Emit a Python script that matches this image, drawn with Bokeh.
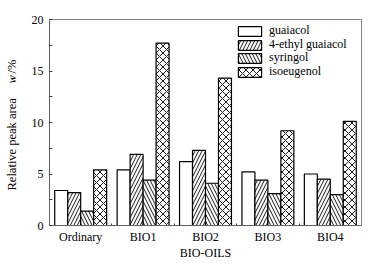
import numpy as np
from bokeh.plotting import figure
from bokeh.layouts import row
from bokeh.models import (FixedTicker, Range1d, Legend, LegendItem, ColumnDataSource)
from bokeh.core.properties import value
from bokeh.embed import file_html
from bokeh.resources import INLINE

categories = ["Ordinary", "BIO1", "BIO2", "BIO3", "BIO4"]
series = ["guaiacol", "4-ethyl guaiacol", "syringol", "isoeugenol"]
guaiacol = [3.4, 5.4, 6.2, 5.2, 5.0]
ethyl_guaiacol = [3.2, 6.9, 7.3, 4.4, 4.5]
syringol = [1.4, 4.4, 4.1, 3.1, 3.0]
isoeugenol = [5.4, 17.7, 14.3, 9.2, 10.1]
y_ticks = [0, 5, 10, 15, 20]
y_minor = [2.5, 7.5, 12.5, 17.5]
y_title_parts = ["Relative peak area", "w", "/%"]

values = [guaiacol, ethyl_guaiacol, syringol, isoeugenol]
hatches = [" ", "/", "\\", "x"]

FONT = "Liberation Serif"
H = 265
LW = 26
TOP, BOTTOM = 19, 40

# ---- left strip holding the y-axis title (its frame is aligned with the main frame) ----
t = figure(width=LW, height=H, output_backend="svg", toolbar_location=None,
           x_range=Range1d(0, LW), y_range=Range1d(BOTTOM, H - TOP),
           min_border=0, min_border_left=0, min_border_right=0,
           min_border_top=TOP, min_border_bottom=BOTTOM)
t.axis.visible = False
t.grid.visible = False
t.outline_line_color = None
t.background_fill_color = "white"
t.border_fill_color = "white"
title_src = ColumnDataSource(dict(
    x=[11, 11, 11],
    y=[H - 190, H - 83, H - 73],
    text=y_title_parts,
    style=["normal", "italic", "normal"],
))
t.text(x="x", y="y", text="text", source=title_src, angle=np.pi / 2,
       text_align="left", text_baseline="middle",
       text_font=value(FONT), text_font_size="12.5px", text_color="black",
       text_font_style="style")

# ---- main plot ----
p = figure(width=382 - LW, height=H, output_backend="svg", toolbar_location=None,
           x_range=Range1d(0, 5), y_range=Range1d(0, 20),
           min_border_left=49 - LW, min_border_right=21, min_border_top=TOP, min_border_bottom=BOTTOM)
p.background_fill_color = "white"
p.border_fill_color = "white"
p.outline_line_color = "#808080"
p.outline_line_width = 1
p.xgrid.visible = False
p.ygrid.visible = False

bw = 0.208
centers = np.arange(len(categories)) + 0.5
renderers = []
for k, (vals, h) in enumerate(zip(values, hatches)):
    xs = centers + (k - 1.5) * bw
    src = ColumnDataSource(dict(x=xs, top=vals))
    r = p.vbar(x="x", top="top", width=bw, bottom=0, source=src,
               fill_color="white", line_color="black", line_width=1.2,
               hatch_pattern=h, hatch_color="black", hatch_scale=7, hatch_weight=0.9)
    renderers.append(r)

# y axis
ya = p.yaxis[0]
ya.ticker = FixedTicker(ticks=y_ticks, minor_ticks=y_minor)
ya.major_tick_in = 3
ya.major_tick_out = 0
ya.minor_tick_in = 3
ya.minor_tick_out = 0
ya.axis_line_color = "#606060"
ya.major_tick_line_color = "#404040"
ya.minor_tick_line_color = "#404040"
ya.major_label_standoff = 6
ya.major_label_text_font = FONT
ya.major_label_text_font_size = "12px"
ya.major_label_text_color = "black"
ya.axis_label = None

# x axis
xa = p.xaxis[0]
xa.ticker = FixedTicker(ticks=list(centers), minor_ticks=[1, 2, 3, 4])
xa.major_label_overrides = {float(c): cat for c, cat in zip(centers, categories)}
xa.major_tick_in = 0
xa.major_tick_out = 0
xa.minor_tick_in = 2
xa.minor_tick_out = 0
xa.minor_tick_line_color = "#404040"
xa.axis_line_color = "#606060"
xa.major_label_standoff = 4
xa.major_label_text_font = FONT
xa.major_label_text_font_size = "12px"
xa.major_label_text_color = "black"
xa.axis_label = "BIO-OILS"
xa.axis_label_standoff = -1
xa.axis_label_text_font = FONT
xa.axis_label_text_font_size = "12px"
xa.axis_label_text_font_style = "normal"
xa.axis_label_text_color = "black"

# legend: one single-row legend per series so the row pitch matches the reference
row_pitch = 13.7
first_row_y = 187
for i, (s, r) in enumerate(zip(series, renderers)):
    lg = Legend(items=[LegendItem(label=s, renderers=[r])],
                location=(186, round(first_row_y - i * row_pitch)))
    lg.padding = 0
    lg.margin = 0
    lg.spacing = 0
    lg.border_line_color = None
    lg.background_fill_alpha = 0
    lg.glyph_width = 29
    lg.glyph_height = 12
    lg.label_height = 12
    lg.label_standoff = 5
    lg.label_text_font = FONT
    lg.label_text_font_size = "12px"
    lg.label_text_color = "black"
    p.add_layout(lg)

layout = row(t, p, spacing=0)
open("out.html", "w").write(file_html(layout, INLINE))
